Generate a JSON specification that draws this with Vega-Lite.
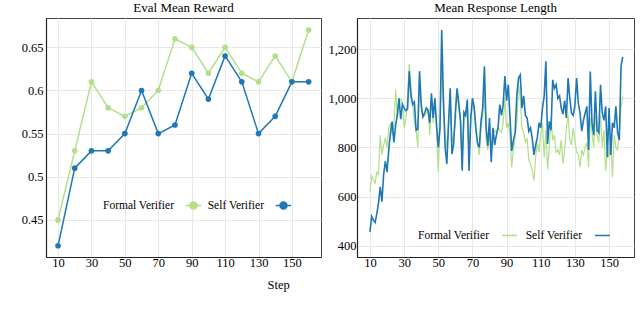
{
  "$schema": "https://vega.github.io/schema/vega-lite/v6.json",
  "padding": {"left": 20, "top": 1, "right": 2, "bottom": 0},
  "background": "white",
  "config": {
    "font": "Liberation Serif",
    "view": {"stroke": "#444", "strokeWidth": 1},
    "axis": {"labelFont": "Liberation Serif", "labelFontSize": 12.5, "labelColor": "black", "gridColor": "#e8e8e8", "gridWidth": 1, "ticks": false, "domainColor": "#222", "domainWidth": 1.2, "titleFont": "Liberation Serif"},
    "title": {"font": "Liberation Serif", "fontSize": 13, "fontWeight": "normal", "color": "black"},
    "legend": {"labelFont": "Liberation Serif", "labelFontSize": 11.5, "labelColor": "black", "labelLimit": 300}
  },
  "title": {"text": "Step", "orient": "bottom", "anchor": "middle", "dx": -49, "offset": 10, "fontSize": 12.5, "font": "Liberation Serif"},
  "datasets": {
    "reward": [
      {"step": 10, "Formal Verifier": 0.45, "Self Verifier": 0.42},
      {"step": 20, "Formal Verifier": 0.53, "Self Verifier": 0.51},
      {"step": 30, "Formal Verifier": 0.61, "Self Verifier": 0.53},
      {"step": 40, "Formal Verifier": 0.58, "Self Verifier": 0.53},
      {"step": 50, "Formal Verifier": 0.57, "Self Verifier": 0.55},
      {"step": 60, "Formal Verifier": 0.58, "Self Verifier": 0.60},
      {"step": 70, "Formal Verifier": 0.60, "Self Verifier": 0.55},
      {"step": 80, "Formal Verifier": 0.66, "Self Verifier": 0.56},
      {"step": 90, "Formal Verifier": 0.65, "Self Verifier": 0.62},
      {"step": 100, "Formal Verifier": 0.62, "Self Verifier": 0.59},
      {"step": 110, "Formal Verifier": 0.65, "Self Verifier": 0.64},
      {"step": 120, "Formal Verifier": 0.62, "Self Verifier": 0.61},
      {"step": 130, "Formal Verifier": 0.61, "Self Verifier": 0.55},
      {"step": 140, "Formal Verifier": 0.64, "Self Verifier": 0.57},
      {"step": 150, "Formal Verifier": 0.61, "Self Verifier": 0.61},
      {"step": 160, "Formal Verifier": 0.67, "Self Verifier": 0.61}
    ],
    "length": [
      {"step": 10, "Formal Verifier": 620, "Self Verifier": 457},
      {"step": 11, "Formal Verifier": 685, "Self Verifier": 520},
      {"step": 12, "Formal Verifier": 670, "Self Verifier": 505},
      {"step": 13, "Formal Verifier": 655, "Self Verifier": 495},
      {"step": 14, "Formal Verifier": 700, "Self Verifier": 530},
      {"step": 15, "Formal Verifier": 690, "Self Verifier": 575},
      {"step": 16, "Formal Verifier": 850, "Self Verifier": 640},
      {"step": 17, "Formal Verifier": 770, "Self Verifier": 580},
      {"step": 18, "Formal Verifier": 810, "Self Verifier": 690},
      {"step": 19, "Formal Verifier": 840, "Self Verifier": 745},
      {"step": 20, "Formal Verifier": 800, "Self Verifier": 700},
      {"step": 21, "Formal Verifier": 880, "Self Verifier": 790},
      {"step": 22, "Formal Verifier": 900, "Self Verifier": 860},
      {"step": 23, "Formal Verifier": 850, "Self Verifier": 905},
      {"step": 24, "Formal Verifier": 890, "Self Verifier": 820},
      {"step": 25, "Formal Verifier": 1035, "Self Verifier": 890},
      {"step": 26, "Formal Verifier": 920, "Self Verifier": 930},
      {"step": 27, "Formal Verifier": 1000, "Self Verifier": 1000},
      {"step": 28, "Formal Verifier": 995, "Self Verifier": 915},
      {"step": 29, "Formal Verifier": 975, "Self Verifier": 975},
      {"step": 30, "Formal Verifier": 880, "Self Verifier": 960},
      {"step": 31, "Formal Verifier": 910, "Self Verifier": 950},
      {"step": 32, "Formal Verifier": 1000, "Self Verifier": 955},
      {"step": 33, "Formal Verifier": 1140, "Self Verifier": 1110},
      {"step": 34, "Formal Verifier": 1040, "Self Verifier": 1010},
      {"step": 35, "Formal Verifier": 980, "Self Verifier": 975},
      {"step": 36, "Formal Verifier": 900, "Self Verifier": 985},
      {"step": 37, "Formal Verifier": 870, "Self Verifier": 870},
      {"step": 38, "Formal Verifier": 800, "Self Verifier": 875},
      {"step": 39, "Formal Verifier": 1070, "Self Verifier": 1110},
      {"step": 40, "Formal Verifier": 960, "Self Verifier": 975},
      {"step": 41, "Formal Verifier": 920, "Self Verifier": 925},
      {"step": 42, "Formal Verifier": 930, "Self Verifier": 940},
      {"step": 43, "Formal Verifier": 940, "Self Verifier": 960},
      {"step": 44, "Formal Verifier": 960, "Self Verifier": 950},
      {"step": 45, "Formal Verifier": 850, "Self Verifier": 900},
      {"step": 46, "Formal Verifier": 1000, "Self Verifier": 1020},
      {"step": 47, "Formal Verifier": 900, "Self Verifier": 920},
      {"step": 48, "Formal Verifier": 990, "Self Verifier": 1000},
      {"step": 49, "Formal Verifier": 870, "Self Verifier": 890},
      {"step": 50, "Formal Verifier": 700, "Self Verifier": 800},
      {"step": 51, "Formal Verifier": 870, "Self Verifier": 880},
      {"step": 52, "Formal Verifier": 1150, "Self Verifier": 1277},
      {"step": 53, "Formal Verifier": 940, "Self Verifier": 1000},
      {"step": 54, "Formal Verifier": 860, "Self Verifier": 800},
      {"step": 55, "Formal Verifier": 800, "Self Verifier": 733},
      {"step": 56, "Formal Verifier": 880, "Self Verifier": 900},
      {"step": 57, "Formal Verifier": 1020, "Self Verifier": 1040},
      {"step": 58, "Formal Verifier": 820, "Self Verifier": 773},
      {"step": 59, "Formal Verifier": 850, "Self Verifier": 814},
      {"step": 60, "Formal Verifier": 890, "Self Verifier": 945},
      {"step": 61, "Formal Verifier": 1020, "Self Verifier": 1040},
      {"step": 62, "Formal Verifier": 950, "Self Verifier": 980},
      {"step": 63, "Formal Verifier": 900, "Self Verifier": 910},
      {"step": 64, "Formal Verifier": 760, "Self Verifier": 706},
      {"step": 65, "Formal Verifier": 920, "Self Verifier": 943},
      {"step": 66, "Formal Verifier": 950, "Self Verifier": 930},
      {"step": 67, "Formal Verifier": 960, "Self Verifier": 995},
      {"step": 68, "Formal Verifier": 780, "Self Verifier": 705},
      {"step": 69, "Formal Verifier": 900, "Self Verifier": 920},
      {"step": 70, "Formal Verifier": 990, "Self Verifier": 1000},
      {"step": 71, "Formal Verifier": 950, "Self Verifier": 965},
      {"step": 72, "Formal Verifier": 860, "Self Verifier": 880},
      {"step": 73, "Formal Verifier": 820, "Self Verifier": 815},
      {"step": 74, "Formal Verifier": 770, "Self Verifier": 800},
      {"step": 75, "Formal Verifier": 880, "Self Verifier": 906},
      {"step": 76, "Formal Verifier": 920, "Self Verifier": 960},
      {"step": 77, "Formal Verifier": 1040, "Self Verifier": 1130},
      {"step": 78, "Formal Verifier": 830, "Self Verifier": 880},
      {"step": 79, "Formal Verifier": 790, "Self Verifier": 806},
      {"step": 80, "Formal Verifier": 860, "Self Verifier": 920},
      {"step": 81, "Formal Verifier": 780, "Self Verifier": 740},
      {"step": 82, "Formal Verifier": 850, "Self Verifier": 880},
      {"step": 83, "Formal Verifier": 870, "Self Verifier": 810},
      {"step": 84, "Formal Verifier": 860, "Self Verifier": 850},
      {"step": 85, "Formal Verifier": 880, "Self Verifier": 880},
      {"step": 86, "Formal Verifier": 870, "Self Verifier": 974},
      {"step": 87, "Formal Verifier": 860, "Self Verifier": 930},
      {"step": 88, "Formal Verifier": 900, "Self Verifier": 975},
      {"step": 89, "Formal Verifier": 1000, "Self Verifier": 1090},
      {"step": 90, "Formal Verifier": 880, "Self Verifier": 990},
      {"step": 91, "Formal Verifier": 900, "Self Verifier": 1055},
      {"step": 92, "Formal Verifier": 840, "Self Verifier": 920},
      {"step": 93, "Formal Verifier": 720, "Self Verifier": 786},
      {"step": 94, "Formal Verifier": 790, "Self Verifier": 830},
      {"step": 95, "Formal Verifier": 850, "Self Verifier": 860},
      {"step": 96, "Formal Verifier": 900, "Self Verifier": 1014},
      {"step": 97, "Formal Verifier": 1055, "Self Verifier": 1082},
      {"step": 98, "Formal Verifier": 1000, "Self Verifier": 1095},
      {"step": 99, "Formal Verifier": 880, "Self Verifier": 960},
      {"step": 100, "Formal Verifier": 860, "Self Verifier": 1010},
      {"step": 101, "Formal Verifier": 820, "Self Verifier": 930},
      {"step": 102, "Formal Verifier": 838, "Self Verifier": 920},
      {"step": 103, "Formal Verifier": 750, "Self Verifier": 866},
      {"step": 104, "Formal Verifier": 733, "Self Verifier": 880},
      {"step": 105, "Formal Verifier": 706, "Self Verifier": 838},
      {"step": 106, "Formal Verifier": 665, "Self Verifier": 770},
      {"step": 107, "Formal Verifier": 760, "Self Verifier": 810},
      {"step": 108, "Formal Verifier": 820, "Self Verifier": 840},
      {"step": 109, "Formal Verifier": 780, "Self Verifier": 900},
      {"step": 110, "Formal Verifier": 860, "Self Verifier": 880},
      {"step": 111, "Formal Verifier": 900, "Self Verifier": 960},
      {"step": 112, "Formal Verifier": 760, "Self Verifier": 1008},
      {"step": 113, "Formal Verifier": 870, "Self Verifier": 1150},
      {"step": 114, "Formal Verifier": 712, "Self Verifier": 814},
      {"step": 115, "Formal Verifier": 800, "Self Verifier": 906},
      {"step": 116, "Formal Verifier": 920, "Self Verifier": 870},
      {"step": 117, "Formal Verifier": 830, "Self Verifier": 1075},
      {"step": 118, "Formal Verifier": 850, "Self Verifier": 1040},
      {"step": 119, "Formal Verifier": 780, "Self Verifier": 1055},
      {"step": 120, "Formal Verifier": 790, "Self Verifier": 1000},
      {"step": 121, "Formal Verifier": 770, "Self Verifier": 1010},
      {"step": 122, "Formal Verifier": 830, "Self Verifier": 960},
      {"step": 123, "Formal Verifier": 733, "Self Verifier": 935},
      {"step": 124, "Formal Verifier": 790, "Self Verifier": 990},
      {"step": 125, "Formal Verifier": 880, "Self Verifier": 920},
      {"step": 126, "Formal Verifier": 933, "Self Verifier": 1082},
      {"step": 127, "Formal Verifier": 830, "Self Verifier": 1000},
      {"step": 128, "Formal Verifier": 810, "Self Verifier": 940},
      {"step": 129, "Formal Verifier": 880, "Self Verifier": 930},
      {"step": 130, "Formal Verifier": 830, "Self Verifier": 970},
      {"step": 131, "Formal Verifier": 780, "Self Verifier": 1082},
      {"step": 132, "Formal Verifier": 770, "Self Verifier": 980},
      {"step": 133, "Formal Verifier": 720, "Self Verifier": 940},
      {"step": 134, "Formal Verifier": 790, "Self Verifier": 866},
      {"step": 135, "Formal Verifier": 770, "Self Verifier": 910},
      {"step": 136, "Formal Verifier": 800, "Self Verifier": 940},
      {"step": 137, "Formal Verifier": 820, "Self Verifier": 967},
      {"step": 138, "Formal Verifier": 720, "Self Verifier": 790},
      {"step": 139, "Formal Verifier": 920, "Self Verifier": 1109},
      {"step": 140, "Formal Verifier": 860, "Self Verifier": 900},
      {"step": 141, "Formal Verifier": 800, "Self Verifier": 850},
      {"step": 142, "Formal Verifier": 930, "Self Verifier": 1028},
      {"step": 143, "Formal Verifier": 850, "Self Verifier": 870},
      {"step": 144, "Formal Verifier": 820, "Self Verifier": 860},
      {"step": 145, "Formal Verifier": 930, "Self Verifier": 1055},
      {"step": 146, "Formal Verifier": 800, "Self Verifier": 940},
      {"step": 147, "Formal Verifier": 870, "Self Verifier": 910},
      {"step": 148, "Formal Verifier": 706, "Self Verifier": 967},
      {"step": 149, "Formal Verifier": 800, "Self Verifier": 760},
      {"step": 150, "Formal Verifier": 760, "Self Verifier": 960},
      {"step": 151, "Formal Verifier": 840, "Self Verifier": 770},
      {"step": 152, "Formal Verifier": 679, "Self Verifier": 900},
      {"step": 153, "Formal Verifier": 850, "Self Verifier": 880},
      {"step": 154, "Formal Verifier": 800, "Self Verifier": 967},
      {"step": 155, "Formal Verifier": 790, "Self Verifier": 860},
      {"step": 156, "Formal Verifier": 860, "Self Verifier": 830},
      {"step": 157, "Formal Verifier": 960, "Self Verifier": 1130},
      {"step": 158, "Formal Verifier": 1008, "Self Verifier": 1168}
    ]
  },
  "resolve": {"scale": {"color": "independent"}, "legend": {"color": "independent"}},
  "spacing": 5,
  "hconcat": [
    {
      "width": 275,
      "height": 239,
      "title": {"text": "Eval Mean Reward", "offset": 3, "font": "Liberation Serif"},
      "data": {"name": "reward"},
      "transform": [{"fold": ["Formal Verifier", "Self Verifier"], "as": ["series", "value"]}],
      "mark": {"type": "line", "strokeWidth": 1.5, "point": {"filled": true, "size": 32}},
      "encoding": {
        "x": {"field": "step", "type": "quantitative", "title": null,
              "scale": {"domain": [2.8, 167.4], "nice": false, "zero": false},
              "axis": {"values": [10, 30, 50, 70, 90, 110, 130, 150], "labelPadding": -1, "labelFont": "Liberation Serif", "labelFontSize": 12.5, "labelExpr": "toString(datum.value)"}},
        "y": {"field": "value", "type": "quantitative", "title": null,
              "scale": {"domain": [0.407, 0.684], "nice": false, "zero": false},
              "axis": {"values": [0.45, 0.5, 0.55, 0.6, 0.65], "labelPadding": 3, "labelFont": "Liberation Serif", "labelFontSize": 12.5, "labelExpr": "toString(datum.value)"}},
        "color": {"field": "series", "type": "nominal",
                  "scale": {"domain": ["Formal Verifier", "Self Verifier"], "range": ["#b2df8a", "#1f78b4"]},
                  "legend": {"orient": "none", "legendX": 139, "legendY": 179, "direction": "horizontal", "title": null,
                             "labelAlign": "right", "labelOffset": -28, "columnPadding": 2,
                             "labelFont": "Liberation Serif", "labelFontSize": 11.5,
                             "symbolType": "M-1,0L1,0M-0.45,0A0.45,0.45,0,1,0,0.45,0A0.45,0.45,0,1,0,-0.45,0",
                             "symbolSize": 240, "symbolStrokeWidth": 1.5}}
      }
    },
    {
      "width": 277,
      "height": 239,
      "title": {"text": "Mean Response Length", "offset": 3, "font": "Liberation Serif"},
      "data": {"name": "length"},
      "transform": [{"fold": ["Formal Verifier", "Self Verifier"], "as": ["series", "value"]}],
      "mark": {"type": "line"},
      "encoding": {
        "x": {"field": "step", "type": "quantitative", "title": null,
              "scale": {"domain": [2.4, 164.6], "nice": false, "zero": false},
              "axis": {"values": [10, 30, 50, 70, 90, 110, 130, 150], "labelPadding": -1, "labelFont": "Liberation Serif", "labelFontSize": 12.5, "labelExpr": "toString(datum.value)"}},
        "y": {"field": "value", "type": "quantitative", "title": null,
              "scale": {"domain": [355, 1326], "nice": false, "zero": false},
              "axis": {"values": [400, 600, 800, 1000, 1200], "labelPadding": 1, "labelFont": "Liberation Serif", "labelFontSize": 12.5,
                       "labelExpr": "datum.value >= 1000 ? '1,' + substring(toString(datum.value), 1) : toString(datum.value)"}},
        "strokeWidth": {"field": "series", "type": "nominal",
                        "scale": {"domain": ["Formal Verifier", "Self Verifier"], "range": [1.2, 1.6]}, "legend": null},
        "color": {"field": "series", "type": "nominal",
                  "scale": {"domain": ["Formal Verifier", "Self Verifier"], "range": ["#b2df8a", "#1f78b4"]},
                  "legend": {"orient": "none", "legendX": 144, "legendY": 209, "direction": "horizontal", "title": null,
                             "labelAlign": "right", "labelOffset": -29, "columnPadding": 5,
                             "labelFont": "Liberation Serif", "labelFontSize": 11.5,
                             "symbolType": "stroke", "symbolSize": 225, "symbolStrokeWidth": 1.5}}
      }
    }
  ]
}
